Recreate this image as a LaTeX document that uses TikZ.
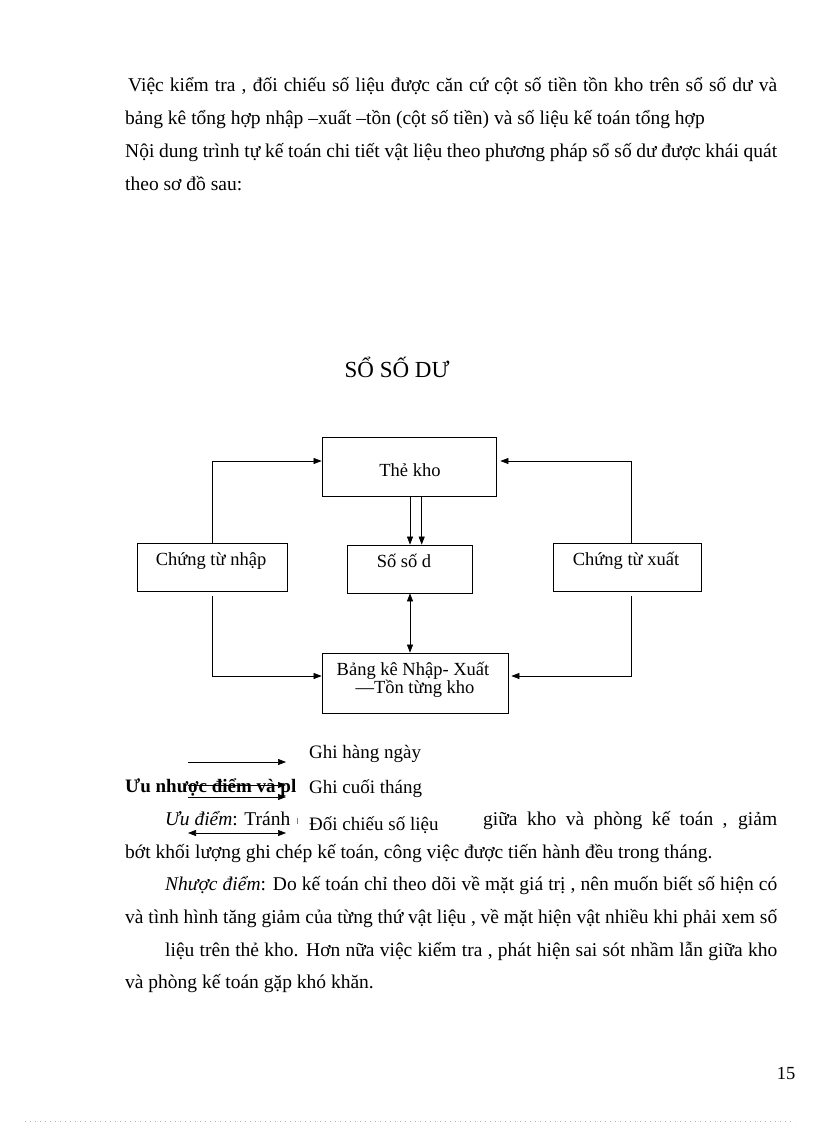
\documentclass[tikz,border=0pt]{standalone}
\usepackage{fontspec}
\setmainfont{Liberation Serif}
\usetikzlibrary{arrows.meta,calc}
\begin{document}
\begin{tikzpicture}[x=1pt,y=-1pt,
  txt/.style={inner sep=0pt,anchor=base west,font=\fontsize{19.5}{22}\selectfont},
  leg/.style={inner sep=0pt,anchor=base west,font=\fontsize{19}{22}\selectfont},
  lbl/.style={inner sep=0pt,anchor=base,font=\fontsize{18.5}{21}\selectfont},
  box/.style={draw,line width=0.8pt,inner sep=0pt},
  tip/.tip={Triangle[length=8pt,width=6pt]},
  conn/.style={line width=0.7pt,-tip},
  dconn/.style={line width=0.7pt,tip-tip}]
\useasboundingbox[fill=white] (0,0) rectangle (816,1123);

% top paragraph
\node[txt] (p1) at (128,92) {\makebox[649pt][s]{Việc kiểm tra , đối chiếu số liệu được căn cứ cột số tiền tồn kho trên sổ số dư và}};
\node[txt] (p2) at (125,125) {bảng kê tổng hợp nhập –xuất –tồn (cột số tiền) và số liệu kế toán tổng hợp};
\node[txt] (p3) at (125,158) {\makebox[652pt][s]{Nội dung trình tự kế toán chi tiết vật liệu theo phương pháp sổ số dư được khái quát}};
\node[txt] (p4) at (125,191) {theo sơ đồ sau:};

% title
\node[inner sep=0pt,anchor=base,font=\fontsize{23}{26}\selectfont] (title) at (397,377) {SỔ SỐ DƯ};

% boxes
\node[box,minimum width=174pt,minimum height=59pt] (the) at (409,466.5) {};
\node[box,minimum width=150pt,minimum height=48pt] (nhap) at (212,567) {};
\node[box,minimum width=125pt,minimum height=48pt] (sod) at (409.5,569) {};
\node[box,minimum width=148pt,minimum height=48pt] (xuat) at (627,567) {};
\node[box,minimum width=186pt,minimum height=60pt] (bang) at (415,683) {};

\node[lbl] (theT) at (410,476) {Thẻ kho};
\node[lbl] (nhapT) at (211,565) {Chứng từ nhập};
\node[lbl] (sodT) at (404,567) {Số số d};
\node[lbl] (xuatT) at (626,565) {Chứng từ xuất};
\node[lbl] (bangT1) at (413,675) {Bảng kê Nhập- Xuất};
\node[lbl] (bangT2) at (415,693) {—Tồn từng kho};

% connectors
\draw[conn] (nhap.north) |- ($(the.west)+(0,-5.5)$);
\draw[conn] ($(xuat.north)+(4,0)$) |- ($(the.east)+(4,-5.5)$);
\draw[conn] ($(nhap.south)+(0,5)$) |- ($(bang.west)+(0,-7)$);
\draw[conn] ($(xuat.south)+(4,5)$) |- ($(bang.east)+(3,-7)$);
\draw[conn] ($(the.south)+(1,0)$) -- ($(sod.north)+(0.5,0)$);
\draw[conn] ($(the.south)+(12.7,0)$) -- ($(sod.north)+(12.2,0)$);
\draw[dconn] ($(sod.south)+(0.5,0)$) -- ($(bang.north)+(-5,0)$);

% legend
\coordinate (l1a) at (188,762);
\coordinate (l1b) at (286,762);
\coordinate (l2a) at (188,785);
\coordinate (l2b) at (286,785);
\coordinate (l3a) at (188,797);
\coordinate (l3b) at (286,797);
\coordinate (l4a) at (188,833);
\coordinate (l4b) at (286,833);

\node[leg] (g1) at (309,758) {Ghi hàng ngày};
\node[leg] (uu) at (125,792) {\bfseries Ưu nhược điểm và pl};
\node[leg] (g2) at (309,793) {Ghi cuối tháng};
\node[txt] (q1) at (165,825) {\textit{Ưu điểm}: Tránh};
\draw[gray,line width=0.6pt] (297,818) -- (297,824);
\node[leg] (g3) at (309,830) {Đối chiếu số liệu};
\node[txt] (q2) at (483,825) {\makebox[294pt][s]{giữa kho và phòng kế toán , giảm}};

\draw[conn] (l1a) -- (l1b);
\draw[conn] (l2a) -- (l2b);
\draw[conn] (l3a) -- (l3b);
\draw[dconn] (l4a) -- (l4b);

% lower paragraph
\node[txt] (r1) at (125,858) {bớt khối lượng ghi chép kế toán, công việc được tiến hành đều trong tháng.};
\node[txt] (r2) at (165,890) {\makebox[612pt][s]{\textit{Nhược điểm}: Do kế toán chỉ theo dõi về mặt giá trị , nên muốn biết số hiện có}};
\node[txt] (r3) at (125,923) {\makebox[652pt][s]{và tình hình tăng giảm của từng thứ vật liệu , về mặt hiện vật nhiều khi phải xem số}};
\node[txt] (r4) at (165,956) {\makebox[612pt][s]{liệu trên thẻ kho. Hơn nữa việc kiểm tra , phát hiện sai sót nhầm lẫn giữa kho}};
\node[txt] (r5) at (125,988) {và phòng kế toán gặp khó khăn.};

% page number
\node[lbl] (pg) at (786,1079) {15};

% dotted footer line
\draw[gray!60,line width=0.6pt,dash pattern=on 0.8pt off 4.2pt] (25,1121) -- (795,1121);
\end{tikzpicture}
\end{document}
